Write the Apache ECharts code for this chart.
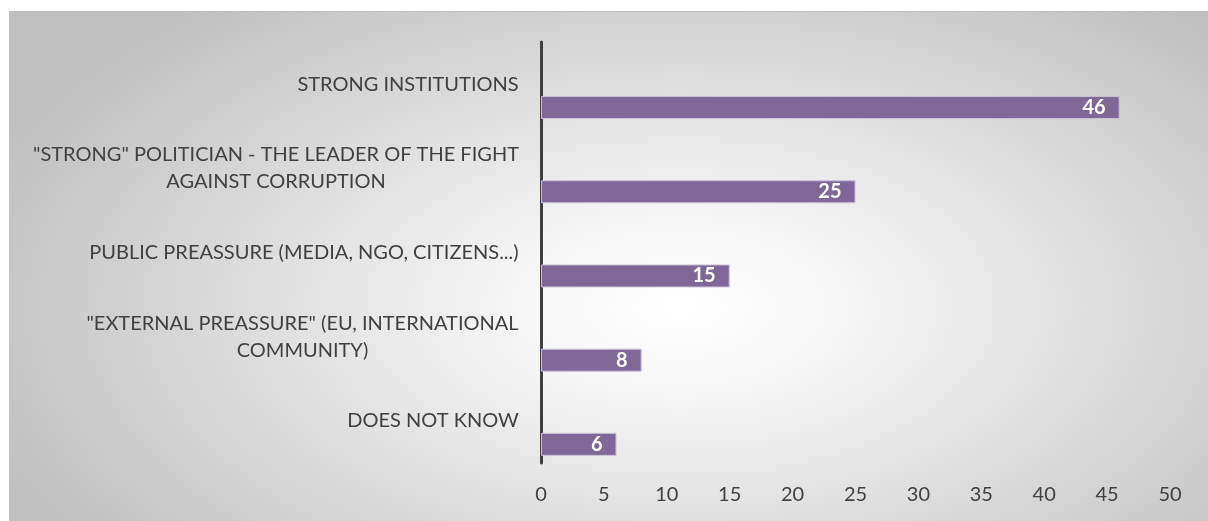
<!DOCTYPE html>
<html>
<head>
<meta charset="utf-8">
<script src="https://cdn.jsdelivr.net/npm/echarts@6/dist/echarts.min.js"></script>
<style>
  html, body { margin: 0; padding: 0; background: #fff; }
  #frame {
    position: absolute; left: 9px; top: 11px; width: 1199px; height: 510px;
    border-top: 1px solid #bdbdbd; box-sizing: border-box;
    background: radial-gradient(ellipse 62% 78% at 56% 58%, #ffffff 0%, #f6f6f6 22%, #c0c0c0 100%);
  }
  #chart { width: 100%; height: 100%; }
</style>
</head>
<body>
<div id="frame"><div id="chart"></div></div>
<script>
// categories, top to bottom
const categories = [
  'STRONG INSTITUTIONS',
  '"STRONG" POLITICIAN - THE LEADER OF THE FIGHT\nAGAINST CORRUPTION',
  'PUBLIC PREASSURE (MEDIA, NGO, CITIZENS...)',
  '"EXTERNAL PREASSURE" (EU, INTERNATIONAL\nCOMMUNITY)',
  'DOES NOT KNOW'
];
const values = [46, 25, 15, 8, 6];
const emptySeries = [null, null, null, null, null];
const xTicks = [0, 50, 5]; // min, max, step

const labelFont = '20px Lato';

// measure longest line so multi-line labels are centered in their own block
const ctx = document.createElement('canvas').getContext('2d');
ctx.font = labelFont;
const rich = {};
categories.forEach((c, i) => {
  const w = Math.max(...c.split('\n').map(l => ctx.measureText(l).width));
  rich['c' + i] = { width: Math.ceil(w), align: 'center', fontSize: 20, fontFamily: 'Lato', color: '#404040', lineHeight: 27 };
});

const chart = echarts.init(document.getElementById('chart'));
chart.setOption({
  animation: false,
  grid: { left: 532, right: 38, top: 30, bottom: 58 },
  xAxis: {
    type: 'value',
    min: xTicks[0],
    max: xTicks[1],
    interval: xTicks[2],
    axisLine: { show: false },
    axisTick: { show: false },
    splitLine: { show: false },
    axisLabel: { color: '#404040', fontSize: 20, fontFamily: 'Lato', margin: 22 }
  },
  yAxis: {
    type: 'category',
    inverse: true,
    data: categories,
    axisTick: { show: false },
    axisLine: { lineStyle: { color: '#3f3f3f', width: 3 } },
    axisLabel: {
      margin: 22,
      align: 'right',
      formatter: (v, i) => v.split('\n').map(l => '{c' + i + '|' + l + '}').join('\n'),
      rich: rich
    }
  },
  series: [
    {
      type: 'bar',
      data: emptySeries,
      barWidth: 23,
      barGap: '104%'
    },
    {
      type: 'bar',
      data: values,
      barWidth: 23,
      itemStyle: { color: '#7f6898', borderColor: '#cbc0d9', borderWidth: 1 },
      label: {
        show: true,
        position: 'insideRight',
        distance: 14,
        color: '#ffffff',
        fontWeight: 'bold',
        fontSize: 20,
        fontFamily: 'Lato'
      }
    }
  ]
});
</script>
</body>
</html>
